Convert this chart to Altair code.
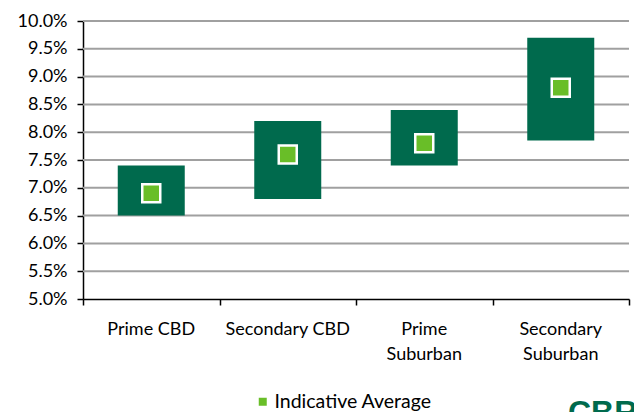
import altair as alt
import pandas as pd

categories = ["Prime CBD", "Secondary CBD", "Prime\nSuburban", "Secondary\nSuburban"]
low = [6.5, 6.8, 7.4, 7.85]
high = [7.4, 8.2, 8.4, 9.7]
average = [6.9, 7.6, 7.8, 8.8]
y_ticks = [5.0, 5.5, 6.0, 6.5, 7.0, 7.5, 8.0, 8.5, 9.0, 9.5, 10.0]
x_edges = [0, 1, 2, 3, 4]
logo_text = "CBRE"

df = pd.DataFrame({
    "cat": categories,
    "idx": [i + 0.5 for i in range(len(categories))],
    "low": low,
    "high": high,
    "avg": average,
    "series": ["Indicative Average"] * len(categories),
})
grid_df = pd.DataFrame({"v": y_ticks[1:], "x0": [0.0] * 10, "x1": [4.0] * 10})

FONT = "Lato"
DARK = "#006a4d"
LIGHT = "#69be28"

x_scale = alt.Scale(domain=[0, 4], nice=False, zero=False, padding=0)
y_scale = alt.Scale(domain=[5.0, 10.0], nice=False, zero=False, padding=0)

x_axis = alt.Axis(values=x_edges, labels=False, title=None, grid=False)
y_axis = alt.Axis(values=y_ticks, title=None,
                  labelExpr="format(datum.value, '.1f') + '%'",
                  grid=False, labelOverlap=False, labelPadding=10, tickCount=11)

base = alt.Chart(df)

grid = alt.Chart(grid_df).mark_rule(color="#a0a0a0", strokeWidth=2).encode(
    y=alt.Y("v:Q", scale=y_scale, axis=y_axis),
    x=alt.X("x0:Q", scale=x_scale, axis=x_axis),
    x2="x1:Q",
)

bars = base.mark_bar(size=67, color=DARK).encode(
    x=alt.X("idx:Q", scale=x_scale, axis=x_axis),
    y=alt.Y("low:Q", scale=y_scale, axis=y_axis),
    y2="high:Q",
)

points = base.mark_point(shape="square", filled=True, size=324, stroke="white",
                         strokeWidth=2.5, opacity=1).encode(
    x=alt.X("idx:Q", scale=x_scale, axis=x_axis),
    y=alt.Y("avg:Q", scale=y_scale, axis=y_axis),
    fill=alt.Fill("series:N", scale=alt.Scale(range=[LIGHT]), legend=alt.Legend(
        title=None, orient="none", legendX=170, legendY=371,
        symbolType="square", symbolSize=64, symbolStrokeWidth=0,
        labelFont=FONT, labelFontSize=19.5, labelColor="black", padding=0,
        labelOffset=2)),
)

labels = base.mark_text(font=FONT, fontSize=18, color="black", baseline="alphabetic",
                        lineHeight=25, lineBreak="\n").encode(
    x=alt.X("idx:Q", scale=x_scale, axis=x_axis),
    y=alt.value(314),
    text="cat:N",
)

logo = alt.Chart(pd.DataFrame({"t": [logo_text]})).mark_text(
    font="Liberation Sans", fontWeight="bold", fontSize=32, color=DARK,
    align="left", baseline="alphabetic").encode(
    x=alt.value(485),
    y=alt.value(402),
    text="t:N",
)

chart = alt.layer(grid, bars, points, labels, logo).properties(
    width=546, height=278,
    autosize=alt.AutoSizeParams(type="none"),
    padding={"left": 83, "top": 21, "right": 5, "bottom": 113},
    background="white",
).configure_view(stroke=None).configure_axis(
    domainColor="black", domainWidth=1.5, tickColor="black",
    tickWidth=1.5, tickSize=6, labelFont=FONT, labelFontSize=18,
    labelColor="black",
)

chart.save("out.html", embed_options={"renderer": "svg", "actions": False})
